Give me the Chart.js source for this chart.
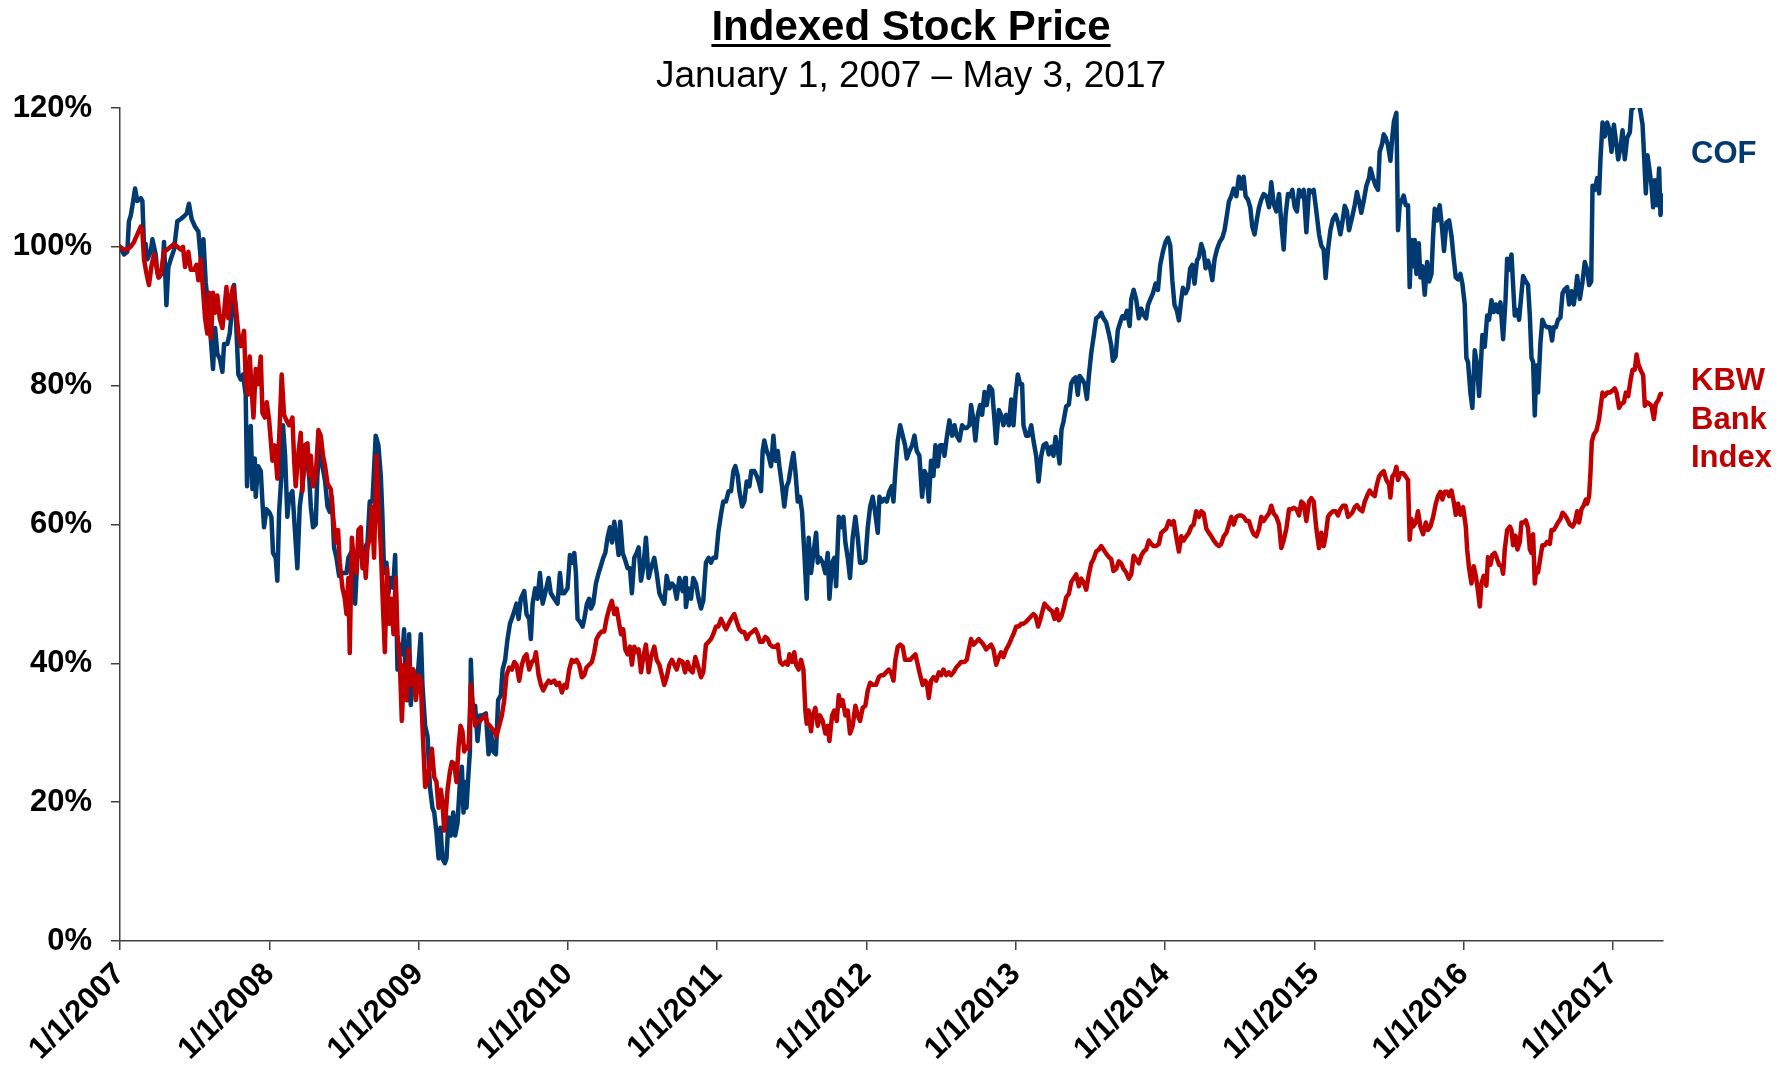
<!DOCTYPE html>
<html>
<head>
<meta charset="utf-8">
<script src="https://cdn.jsdelivr.net/npm/chart.js@4.4.1/dist/chart.umd.min.js"></script>
<style>
html,body{margin:0;padding:0;background:#fff;}
#wrap{position:relative;width:1786px;height:1070px;overflow:hidden;background:#fff;}
#c{position:absolute;left:0;top:0;}
.t{position:absolute;font-family:"Liberation Sans",Arial,Helvetica,sans-serif;line-height:1;white-space:nowrap;color:#000;}
#title{left:911px;top:5px;transform:translateX(-50%);font-size:42px;font-weight:bold;text-decoration:underline;text-decoration-thickness:3px;text-underline-offset:4px;}
#sub{left:911px;top:56px;transform:translateX(-50%);font-size:37px;}
#cof{left:1691px;top:137px;font-size:31px;font-weight:bold;color:#003A70;}
#kbw{left:1691px;top:361px;font-size:31px;font-weight:bold;color:#C00000;line-height:38.5px;}
</style>
</head>
<body>
<div id="wrap">
<canvas id="c" width="1786" height="1070"></canvas>
<div class="t" id="title">Indexed Stock Price</div>
<div class="t" id="sub">January 1, 2007 – May 3, 2017</div>
<div class="t" id="cof">COF</div>
<div class="t" id="kbw">KBW<br>Bank<br>Index</div>
</div>
<script>
// x tick labels (years, shown as 1/1/YYYY) and y ticks (percent)
const xTickYears = [2007,2008,2009,2010,2011,2012,2013,2014,2015,2016,2017];
const yTickValues = [0,20,40,60,80,100,120];

// COF indexed price: dates as fractional years, values in %
const cofDates = [
2007.000,2007.027,2007.049,2007.060,2007.071,2007.083,2007.101,2007.116,2007.139,2007.150,
2007.161,2007.172,2007.183,2007.206,2007.217,2007.239,2007.250,2007.261,2007.284,2007.295,
2007.311,2007.324,2007.340,2007.362,2007.384,2007.407,2007.429,2007.447,2007.462,2007.480,
2007.503,2007.525,2007.541,2007.559,2007.574,2007.592,2007.608,2007.623,2007.637,2007.652,
2007.670,2007.686,2007.697,2007.719,2007.735,2007.748,2007.764,2007.775,2007.793,2007.809,
2007.824,2007.842,2007.851,2007.865,2007.876,2007.887,2007.903,2007.909,2007.925,2007.943,
2007.954,2007.965,2007.981,2007.999,
2008.014,2008.025,2008.043,2008.054,2008.066,2008.081,2008.092,2008.106,2008.121,2008.133,
2008.155,2008.166,2008.188,2008.204,2008.222,2008.233,2008.249,2008.267,2008.278,2008.293,
2008.311,2008.322,2008.338,2008.356,2008.374,2008.390,2008.405,2008.419,2008.434,2008.450,
2008.468,2008.486,2008.501,2008.517,2008.530,2008.546,2008.557,2008.575,2008.591,2008.606,
2008.624,2008.642,2008.658,2008.673,2008.691,2008.713,2008.731,2008.747,2008.758,2008.769,
2008.785,2008.798,2008.814,2008.830,2008.843,2008.859,2008.874,2008.892,2008.903,2008.915,
2008.926,2008.937,2008.948,2008.964,2008.982,
2009.000,2009.015,2009.026,2009.044,2009.060,2009.076,2009.093,2009.105,2009.120,2009.134,
2009.147,2009.160,2009.176,2009.187,2009.201,2009.216,2009.232,2009.245,2009.261,2009.277,
2009.290,2009.301,2009.312,2009.321,2009.335,2009.344,2009.350,2009.361,2009.379,2009.395,
2009.411,2009.428,2009.451,2009.469,2009.484,2009.500,2009.518,2009.533,2009.551,2009.563,
2009.580,2009.596,2009.612,2009.630,2009.641,2009.656,2009.670,2009.685,2009.708,2009.723,
2009.741,2009.752,2009.764,2009.781,2009.797,2009.813,2009.831,2009.848,2009.871,2009.886,
2009.909,2009.931,2009.947,2009.960,2009.976,2009.998,
2010.014,2010.032,2010.043,2010.054,2010.065,2010.081,2010.099,2010.110,2010.128,2010.143,
2010.155,2010.170,2010.188,2010.206,2010.222,2010.237,2010.251,2010.266,2010.282,2010.296,
2010.311,2010.327,2010.340,2010.351,2010.367,2010.385,2010.400,2010.416,2010.429,2010.445,
2010.461,2010.474,2010.490,2010.505,2010.523,2010.541,2010.557,2010.579,2010.595,2010.613,
2010.630,2010.646,2010.662,2010.680,2010.697,2010.713,2010.729,2010.747,2010.769,2010.785,
2010.791,2010.809,2010.825,2010.840,2010.858,2010.876,2010.892,2010.907,2010.925,2010.943,
2010.959,2010.974,2010.992,
2011.008,2011.026,2011.041,2011.059,2011.077,2011.093,2011.109,2011.122,2011.138,2011.149,
2011.167,2011.182,2011.198,2011.216,2011.229,2011.249,2011.265,2011.278,2011.294,2011.305,
2011.316,2011.332,2011.345,2011.361,2011.377,2011.390,2011.406,2011.417,2011.435,2011.450,
2011.466,2011.479,2011.495,2011.511,2011.524,2011.540,2011.555,2011.569,2011.584,2011.600,
2011.613,2011.629,2011.645,2011.663,2011.674,2011.689,2011.707,2011.725,2011.741,2011.752,
2011.770,2011.785,2011.797,2011.815,2011.830,2011.846,2011.859,2011.875,2011.890,2011.908,
2011.926,2011.942,2011.957,2011.975,2011.993,
2012.009,2012.025,2012.042,2012.058,2012.076,2012.087,2012.105,2012.121,2012.136,2012.154,
2012.170,2012.181,2012.194,2012.210,2012.226,2012.243,2012.259,2012.270,2012.288,2012.306,
2012.322,2012.337,2012.355,2012.373,2012.389,2012.404,2012.418,2012.433,2012.449,2012.462,
2012.478,2012.494,2012.512,2012.523,2012.538,2012.556,2012.574,2012.590,2012.605,2012.623,
2012.641,2012.657,2012.672,2012.690,2012.701,2012.717,2012.730,2012.746,2012.762,2012.775,
2012.791,2012.806,2012.824,2012.842,2012.858,2012.869,2012.887,2012.902,2012.918,2012.936,
2012.954,2012.970,2012.985,2012.999,
2013.014,2013.030,2013.043,2013.052,2013.070,2013.086,2013.104,2013.119,2013.137,2013.153,
2013.171,2013.186,2013.204,2013.222,2013.238,2013.253,2013.267,2013.282,2013.294,2013.307,
2013.320,2013.338,2013.356,2013.372,2013.387,2013.401,2013.416,2013.428,2013.445,2013.461,
2013.477,2013.490,2013.506,2013.521,2013.539,2013.557,2013.573,2013.588,2013.606,2013.624,
2013.640,2013.651,2013.669,2013.684,2013.700,2013.714,2013.729,2013.745,2013.763,2013.774,
2013.790,2013.807,2013.825,2013.841,2013.857,2013.874,2013.886,2013.901,2013.919,2013.937,
2013.953,2013.968,2013.986,
2014.004,2014.020,2014.035,2014.049,2014.064,2014.080,2014.093,2014.109,2014.120,2014.138,
2014.154,2014.169,2014.183,2014.198,2014.214,2014.227,2014.243,2014.259,2014.272,2014.288,
2014.303,2014.317,2014.332,2014.348,2014.366,2014.384,2014.399,2014.415,2014.428,2014.444,
2014.460,2014.478,2014.495,2014.511,2014.527,2014.540,2014.556,2014.571,2014.585,2014.600,
2014.616,2014.630,2014.645,2014.661,2014.679,2014.697,2014.712,2014.728,2014.746,2014.764,
2014.779,2014.795,2014.808,2014.824,2014.839,2014.853,2014.869,2014.884,2014.898,2014.913,
2014.929,2014.947,2014.965,2014.980,2014.996,
2015.014,2015.032,2015.047,2015.063,2015.076,2015.092,2015.108,2015.125,2015.143,2015.159,
2015.175,2015.188,2015.204,2015.219,2015.233,2015.255,2015.271,2015.286,2015.300,2015.315,
2015.331,2015.349,2015.367,2015.376,2015.394,2015.411,2015.427,2015.438,2015.454,2015.465,
2015.479,2015.494,2015.510,2015.523,2015.534,2015.550,2015.561,2015.572,2015.584,2015.599,
2015.613,2015.628,2015.639,2015.651,2015.662,2015.673,2015.684,2015.700,2015.711,2015.724,
2015.740,2015.756,2015.769,2015.785,2015.796,2015.807,2015.823,2015.840,2015.856,2015.869,
2015.885,2015.903,2015.919,2015.934,2015.948,2015.963,2015.979,2015.992,
2016.008,2016.019,2016.030,2016.046,2016.059,2016.075,2016.091,2016.104,2016.113,2016.126,
2016.142,2016.158,2016.171,2016.187,2016.202,2016.216,2016.231,2016.247,2016.265,2016.281,
2016.292,2016.305,2016.321,2016.332,2016.343,2016.359,2016.372,2016.388,2016.399,2016.417,
2016.432,2016.444,2016.455,2016.466,2016.477,2016.488,2016.499,2016.515,2016.528,2016.544,
2016.560,2016.578,2016.593,2016.604,2016.618,2016.633,2016.649,2016.663,2016.678,2016.694,
2016.707,2016.723,2016.738,2016.752,2016.761,2016.779,2016.797,2016.812,2016.828,2016.841,
2016.855,2016.864,2016.879,2016.895,2016.908,2016.917,2016.931,2016.946,2016.962,2016.975,
2016.991,
2017.007,2017.020,2017.036,2017.051,2017.065,2017.080,2017.096,2017.114,2017.125,2017.136,
2017.158,2017.181,2017.199,2017.208,2017.221,2017.232,2017.243,2017.259,2017.270,2017.281,
2017.297,2017.310,2017.319,2017.336
];
const cofValues = [
100,98.9,99.3,103.7,104.4,105.9,108.4,106.6,107,106.6,
100,100.4,98.2,99.3,101.1,98.9,96.3,95.6,96.3,100.7,
91.6,97.1,98.2,99.6,103.7,104,104.4,104.8,106.2,104,
102.9,102.2,98.2,101.1,94.9,91.2,86.8,82.4,88.3,84.6,
83.8,82,86,86,87.5,90.5,94.5,90.5,81.6,80.9,
81.6,78.7,65.5,72.8,74.2,65.1,69.5,64,68.4,67.7,
63.3,59.6,62.2,61.8,
61.1,55.9,55.2,51.9,61.8,67,74.3,69.9,61.1,64,
64.8,61.1,53.7,62.6,65.5,68.4,69.9,67,62.6,59.6,
60,67,71.7,68.4,66.2,62.6,61.8,64,56.7,55.2,
52.6,53,53,53,55.2,55.9,53,48.6,55.9,55.9,
55.2,56.7,57.4,63.3,63.3,72.8,71.4,67,61.1,53,
54.5,50.1,52.3,50.9,55.6,39.1,42.7,41.3,44.9,36.1,
34.7,44.2,34,39.1,35.5,
39.8,44.2,36.9,31,29.5,22.2,19.2,18.5,15.6,11.9,
16.3,11.9,11.2,11.9,17.8,15.2,18.5,15.2,17,22.9,
25.1,18.5,22.9,19.2,24.4,27.3,40.5,33.9,33.9,28.8,
32.5,32.5,32.8,26.9,30.2,27.3,26.9,34.7,35.4,39.1,
40.5,43.5,45.7,46.8,47.5,48.6,46.4,49.3,50.4,47.1,
46.4,43.5,48.6,50.8,49.3,53,48.6,50.1,52.3,50.1,
49.3,48.6,53,50.1,50.1,50.8,
55.6,54.5,55.9,53,46.4,46,45.3,46.4,48.6,49.3,
47.9,48.6,51.5,53,54.1,55.2,55.9,58.1,59.6,57.4,
60.4,58.1,55.6,60.4,55.9,54.8,53.7,53.7,50.1,55.2,
55.9,56.7,51.9,53.7,58.1,52.3,53.7,55.2,53,50.1,
49.3,48.6,52.6,50.8,51.5,51.1,49.3,52.3,50.4,52.3,
48.1,50.8,49.3,52.3,51.5,49.3,47.9,49,54.5,55.2,
54.5,55.2,55.2,
58.9,61.5,63.3,63.3,64.8,64.8,67.7,68.4,67,64.8,
62.6,63.3,66.2,65.5,67.7,67.7,67,66.2,64.8,70.6,
72.1,70.6,69.9,68.4,72.8,69.2,70.6,68.4,65.5,62.6,
65.5,66.2,68.4,70.3,67.7,63.3,64,61.8,55.9,49.3,
58.1,53,55.9,58.8,54.5,55.2,54.5,53,55.9,49.3,
54.5,55.2,51.1,61.1,59.6,61.1,57.4,55.2,52.3,58.1,
61.1,58.1,54.5,54.5,54.8,
59.6,62.6,64,61.8,58.8,64,63.3,63.7,63.3,64.8,
65.5,63.3,67.7,72.1,74.3,72.8,71.4,69.5,70.6,71.4,
72.8,70.6,69.9,64,67.7,67,63.3,69.2,67,71.4,
68.4,71.4,71.4,69.9,72.5,75,72.8,74.3,72.8,72.1,
74.3,73.9,73.9,74.3,77.2,75,72.1,75.8,77.2,75.8,
79.1,77.2,79.9,79.4,75,71.7,76.5,75.8,74.3,75.8,
74.3,78,74.3,78.7,
81.6,80.2,80.2,74.3,72.8,72.8,74.3,72.1,69.9,66.2,
69.9,71.4,71.7,70.1,71.2,69.9,72.6,70.7,68.8,73.7,
74.8,77,77.3,80.3,80.9,81.2,78.7,81.4,80.9,80.3,
78.1,81.4,84.7,86.9,89.7,90,90.5,89.7,89.1,87.5,
85.8,83.6,84.2,88,89.1,90,89.7,90.8,88.6,92.4,
93.8,92.4,89.7,91.1,90.2,89.7,91.6,92.4,93.3,94.7,
93.8,97.4,99.3,
100.7,101.3,100.2,95.2,91.6,90.8,89.4,92.4,94.1,93.3,
94.1,96.9,97.4,94.7,98,98.5,100.4,99.3,96.9,98,
96.9,95.2,98.2,99.6,100.7,101.3,102.4,104.6,106.5,107.3,
108.4,107.3,110.1,108.4,110.1,107.3,106.8,105.7,102.9,101.8,
104,105.7,106.8,107.6,107.3,105.7,109.3,106.2,105.1,107.6,
103.5,99.6,104.6,107.6,107.3,108.2,105.7,105.1,108.2,107.3,
108.2,102.1,108.2,107.9,108.2,
105.1,101.8,100.2,99.6,95.5,99.6,102.4,104,104.6,103.5,
101.8,103.5,105.9,105.1,102.4,104.4,106,107.9,106.6,104.9,
106.6,108.8,109.9,111.3,109.9,108.8,108.2,113.7,114.8,116.2,
115.7,114.6,112.4,115.9,118.1,119.3,102.4,106,106.6,107.4,
106,106,94.2,101,97.2,101,96.1,100.5,95.6,97.2,
93.1,97.8,95,96.1,101.6,105.5,103.8,106,102.7,99.4,
103.5,103.8,101.6,98.3,95.6,95.3,96.1,94.7,
91.7,84,83.4,79,76.8,85.1,82.9,78.5,81.8,87.3,
85.6,90.1,89.5,92.3,90.6,91.7,90.6,92,86.7,92.3,
98.3,96.7,98.9,94.5,90.1,90.9,89.5,93.3,95.8,95,
94.5,90.1,84,83.4,75.7,82.9,79,86.2,89.5,88.7,
88.4,88.4,86.5,88.4,88.4,89.5,89.8,93.3,93.9,94.2,
91.7,93.6,91.7,93.9,95.8,92.5,95,97.8,96.7,94.5,
95,108.8,108.2,109.9,107.7,112.6,117.9,115.9,117.9,117,
113.7,
117.6,115.4,112.6,114.3,116.8,112.6,115.7,116.5,119.8,120,
121,120,117.6,113.7,107.7,113.2,111.5,108.8,105.7,109.6,
106,111.3,104.6,107.4
];

// KBW Bank Index indexed price
const kbwDates = [
2007.000,2007.027,2007.049,2007.071,2007.094,2007.116,2007.139,2007.150,2007.161,2007.176,
2007.194,2007.212,2007.228,2007.239,2007.257,2007.273,2007.295,2007.317,2007.340,2007.362,
2007.384,2007.407,2007.422,2007.436,2007.458,2007.474,2007.496,2007.512,2007.525,2007.541,
2007.556,2007.570,2007.585,2007.596,2007.610,2007.623,2007.637,2007.652,2007.668,2007.686,
2007.697,2007.713,2007.726,2007.742,2007.757,2007.775,2007.793,2007.809,2007.831,2007.842,
2007.856,2007.869,2007.882,2007.894,2007.909,2007.925,2007.943,2007.954,2007.970,2007.983,
2007.999,
2008.010,2008.021,2008.037,2008.054,2008.070,2008.083,2008.099,2008.115,2008.133,2008.155,
2008.166,2008.177,2008.193,2008.211,2008.222,2008.238,2008.256,2008.267,2008.278,2008.293,
2008.311,2008.329,2008.345,2008.360,2008.374,2008.390,2008.412,2008.428,2008.445,2008.461,
2008.472,2008.490,2008.506,2008.517,2008.530,2008.539,2008.553,2008.568,2008.584,2008.597,
2008.613,2008.624,2008.635,2008.646,2008.658,2008.673,2008.687,2008.702,2008.718,2008.731,
2008.747,2008.758,2008.774,2008.789,2008.803,2008.818,2008.832,2008.847,2008.859,2008.874,
2008.888,2008.903,2008.919,2008.932,2008.948,2008.964,2008.982,
2009.000,2009.015,2009.026,2009.044,2009.060,2009.076,2009.089,2009.105,2009.120,2009.134,
2009.149,2009.160,2009.172,2009.183,2009.194,2009.210,2009.223,2009.239,2009.254,2009.268,
2009.281,2009.294,2009.306,2009.317,2009.335,2009.350,2009.366,2009.379,2009.395,2009.411,
2009.428,2009.446,2009.462,2009.478,2009.491,2009.507,2009.522,2009.540,2009.558,2009.574,
2009.589,2009.607,2009.625,2009.641,2009.656,2009.674,2009.692,2009.708,2009.723,2009.741,
2009.759,2009.775,2009.786,2009.804,2009.820,2009.835,2009.853,2009.871,2009.886,2009.909,
2009.924,2009.942,2009.960,2009.976,2009.991,
2010.009,2010.027,2010.043,2010.058,2010.076,2010.094,2010.110,2010.125,2010.143,2010.161,
2010.177,2010.192,2010.210,2010.228,2010.244,2010.259,2010.277,2010.295,2010.311,2010.327,
2010.344,2010.356,2010.371,2010.385,2010.400,2010.416,2010.429,2010.445,2010.461,2010.474,
2010.490,2010.505,2010.523,2010.541,2010.557,2010.579,2010.595,2010.613,2010.630,2010.646,
2010.662,2010.680,2010.697,2010.713,2010.729,2010.747,2010.769,2010.785,2010.802,2010.818,
2010.836,2010.854,2010.869,2010.892,2010.907,2010.925,2010.943,2010.959,2010.974,2010.992,
2011.008,2011.026,2011.041,2011.059,2011.077,2011.093,2011.115,2011.131,2011.149,2011.167,
2011.182,2011.198,2011.216,2011.234,2011.256,2011.272,2011.287,2011.305,2011.323,2011.339,
2011.354,2011.372,2011.390,2011.406,2011.421,2011.439,2011.457,2011.473,2011.484,2011.502,
2011.517,2011.529,2011.546,2011.562,2011.578,2011.591,2011.600,2011.613,2011.629,2011.640,
2011.658,2011.674,2011.689,2011.707,2011.725,2011.741,2011.752,2011.770,2011.785,2011.801,
2011.815,2011.830,2011.841,2011.859,2011.875,2011.890,2011.908,2011.926,2011.942,2011.957,
2011.975,2011.993,
2012.009,2012.025,2012.042,2012.065,2012.083,2012.098,2012.114,2012.132,2012.150,2012.165,
2012.181,2012.194,2012.210,2012.226,2012.243,2012.259,2012.277,2012.293,2012.310,2012.328,
2012.344,2012.360,2012.377,2012.393,2012.404,2012.418,2012.433,2012.449,2012.467,2012.485,
2012.500,2012.516,2012.534,2012.552,2012.567,2012.583,2012.601,2012.619,2012.634,2012.657,
2012.672,2012.686,2012.701,2012.717,2012.735,2012.753,2012.768,2012.784,2012.802,2012.820,
2012.835,2012.851,2012.869,2012.887,2012.902,2012.918,2012.936,2012.954,2012.970,2012.985,
2013.003,2013.021,2013.037,2013.052,2013.070,2013.088,2013.104,2013.119,2013.133,2013.150,
2013.166,2013.179,2013.193,2013.209,2013.227,2013.244,2013.260,2013.276,2013.289,2013.305,
2013.320,2013.338,2013.356,2013.372,2013.387,2013.405,2013.423,2013.439,2013.454,2013.472,
2013.490,2013.506,2013.521,2013.539,2013.557,2013.573,2013.588,2013.606,2013.624,2013.640,
2013.655,2013.673,2013.691,2013.707,2013.722,2013.740,2013.758,2013.774,2013.790,2013.807,
2013.825,2013.841,2013.857,2013.874,2013.892,2013.908,2013.924,2013.941,2013.959,2013.975,
2013.991,
2014.008,2014.026,2014.042,2014.058,2014.075,2014.093,2014.109,2014.125,2014.142,2014.160,
2014.176,2014.192,2014.209,2014.227,2014.243,2014.259,2014.277,2014.294,2014.310,2014.326,
2014.344,2014.361,2014.377,2014.393,2014.411,2014.428,2014.444,2014.460,2014.478,2014.495,
2014.511,2014.527,2014.545,2014.562,2014.578,2014.594,2014.612,2014.630,2014.645,2014.661,
2014.679,2014.697,2014.712,2014.728,2014.746,2014.764,2014.779,2014.795,2014.813,2014.831,
2014.846,2014.862,2014.880,2014.898,2014.913,2014.929,2014.947,2014.965,2014.980,2014.996,
2015.014,2015.032,2015.047,2015.063,2015.076,2015.092,2015.108,2015.125,2015.143,2015.159,
2015.175,2015.192,2015.210,2015.226,2015.255,2015.271,2015.286,2015.304,2015.322,2015.338,
2015.353,2015.371,2015.387,2015.405,2015.420,2015.434,2015.450,2015.465,2015.483,2015.501,
2015.510,2015.523,2015.539,2015.550,2015.561,2015.577,2015.595,2015.613,2015.628,2015.639,
2015.651,2015.662,2015.680,2015.695,2015.711,2015.729,2015.747,2015.762,2015.778,2015.796,
2015.814,2015.829,2015.845,2015.858,2015.874,2015.890,2015.903,2015.919,2015.934,2015.948,
2015.963,2015.979,2015.997,
2016.015,2016.024,2016.037,2016.053,2016.068,2016.082,2016.097,2016.109,2016.120,2016.135,
2016.153,2016.164,2016.180,2016.193,2016.209,2016.220,2016.238,2016.254,2016.265,2016.276,
2016.292,2016.310,2016.321,2016.332,2016.348,2016.361,2016.377,2016.388,2016.404,2016.417,
2016.432,2016.444,2016.455,2016.466,2016.477,2016.488,2016.499,2016.515,2016.528,2016.544,
2016.560,2016.578,2016.589,2016.604,2016.618,2016.633,2016.649,2016.663,2016.678,2016.694,
2016.712,2016.730,2016.745,2016.761,2016.774,2016.790,2016.806,2016.819,2016.828,2016.841,
2016.850,2016.859,2016.873,2016.890,2016.908,2016.917,2016.931,2016.946,2016.962,2016.980,
2016.998,
2017.013,2017.025,2017.042,2017.058,2017.074,2017.087,2017.103,2017.118,2017.132,2017.147,
2017.159,2017.170,2017.185,2017.203,2017.214,2017.230,2017.243,2017.259,2017.275,2017.288,
2017.304,2017.319,2017.336
];
const kbwValues = [
100,99.6,99.6,100,100.7,101.8,102.9,102.2,98.2,96.3,
94.5,97.4,98.9,97.8,95.6,96,99.3,99.6,100,100.4,
100,99.6,100,97.1,99.3,96.7,96.7,97.4,95.2,98.2,
93.8,89.7,87.5,93.4,86.8,93.4,90.5,93,89.7,88.3,
90.5,94.2,89.7,92.7,94.2,91.6,87.5,85.7,87.9,80.9,
78.7,84.2,79.4,75.4,82.4,80.2,84.2,76.1,75.4,77.6,
75,
72.1,69.2,71.4,66.6,74.3,81.6,75.8,75,74.3,75.4,
69.5,65.5,69.9,73.2,64.8,71.4,71.7,67,69.9,65.5,
67,73.6,72.8,69.9,68.4,65.9,65.1,61.1,57.4,59.2,
54.5,50.9,49.3,47.1,52.3,41.5,58.1,54.5,53,59.2,
59.6,53.7,55.9,52.3,56.7,58.1,62.6,55.2,69.9,63.3,
56.7,50.1,41.6,53.7,45.7,49.3,44.2,52.3,44.2,40.5,
31.7,39.8,34.7,42,36.9,39.1,34.7,
38.3,37.5,31,22.2,22.9,25.8,27.7,23.6,22.9,19.2,
21.8,20,15.9,18.5,21.8,24.4,25.8,25.5,22.9,28,
31,30.2,27.3,28,27.7,36.9,33.2,31,31.7,31.7,
32.1,32.5,31.3,31,30.6,30.2,29.5,31,32.5,34.7,
38.3,39.4,39.1,40.2,39.8,37.5,39.8,40.9,41.3,39.1,
40.2,40.5,41.6,38.3,36.9,36.1,36.9,37.5,37.2,37.5,
36.9,37.2,35.8,36.9,36.5,
39.1,40.5,40.2,40.5,39.8,38,38.3,39.4,39.8,40.2,
41.6,43.5,44.2,44.6,44.6,46.4,47.9,49,47.1,47.9,
45.7,44.2,44.9,42,41.3,42.4,39.8,42.4,41.6,42,
38.7,40.9,42.7,38.7,40.9,42.4,40.5,39.8,38.3,36.9,
38,39.8,40.5,39.8,39.1,40.5,40.2,38.7,40.2,39.1,
38.7,40.9,39.8,38,38.7,42.7,43.1,43.5,44.2,45.3,
45.3,46.4,45.7,44.9,45.7,46.4,47.1,46,44.9,44.5,
44.5,43.5,44.2,44.5,44.9,44.2,43.1,43.1,43.8,43.5,
42.7,42.4,42.4,42.7,40.2,39.8,40.2,39.8,41.3,40.2,
41.6,39.8,39.1,40.5,39.1,33.2,31.3,33.2,30.2,32.5,
33.6,31,32.5,31.7,29.9,31,28.8,32.5,33.2,31.7,
35.4,33.9,34.7,32.5,33.2,29.9,31,33.9,32.5,31.7,
33.6,33.9,
36.1,37.2,36.9,36.9,38,38.3,38.3,38.7,39.1,38.7,
37.5,40.5,42.4,42.7,42.4,40.5,40.5,40.5,40.9,41.3,
39.8,38.3,36.9,37.5,37.2,35,37.5,38,37.5,38.7,
38.3,39.1,38.3,38.7,38.3,38.7,39.4,39.8,40.2,40.2,
40.5,42,43.5,42.7,43.1,43.5,43.1,42.7,42,42.4,
42.7,42,39.8,40.9,41.6,40.9,42,42.7,43.5,44.2,
45.3,45.3,45.7,45.7,46,46.4,46.8,47.1,46.8,45.3,
46.4,47.5,48.6,48.2,47.8,47.5,46.4,47.8,46.2,46.7,
47.8,49.5,50,51.7,52.2,52.8,51.1,52.2,51.7,50.6,
52.8,54.4,55,56.1,56.4,56.9,56.4,55.8,55.3,55,
53.3,53.6,54.7,54.4,53.6,53.1,52.2,52.8,55.5,55,
54.4,55.5,56.1,56.4,57.7,57.2,56.9,56.9,57.2,58.8,
59.1,
59.4,60.5,60,60.5,58.3,56.1,58.3,57.7,58.3,58.8,
59.7,60,61.9,61.1,61.9,61.6,59.4,58.8,58.3,57.7,
57.2,56.9,57.2,58.3,58.8,60,61.1,60,61.1,61.3,
61.3,61.1,60.5,60.5,59.4,58.6,58.3,59.4,61.1,60.5,
61.1,61.6,62.7,61.6,61.1,60,56.6,57.7,59.4,62.2,
62.2,62.4,62.2,61.3,63.3,63,60.5,63.3,63.8,63.3,
59.4,56.6,58.8,56.9,58.3,61.1,61.6,61.9,61.9,61.3,
62.2,62.7,62.7,61.1,61.7,62.5,62.8,62.2,61.9,63.3,
64.1,64.9,64.4,64.1,65.8,66.9,67.4,67.7,66.4,65.8,
63.9,66.9,67.4,68.3,66.4,67.4,67.4,66.9,66.4,57.8,
60.8,59.7,60.3,61.9,59.7,58.6,60.3,59.2,59.7,61.1,
63,64.1,64.7,63.6,64.7,64.7,64.1,64.9,63.3,61.4,
63,61.4,62.5,
59.7,56.4,53.7,51.5,54,52.6,50.4,48.2,51.5,52.6,
51.2,55.3,54.2,55.6,55.9,55.3,54.2,54,52.9,56.4,
59.2,59.7,59.2,57,58.4,56.4,57.5,60.3,60.3,60.6,
59.5,56.4,55.9,58.6,51.5,53.7,53.1,55.3,57,57,
57.5,57.2,59.2,59.2,59.7,60.3,60.8,61.7,61.4,60.8,
60,59.7,60.3,61.9,60.3,62.2,62.8,63.6,63,64.1,
67.4,71.9,73,73.5,75.2,76.8,79,78.5,79,79,
79.3,
79.6,79,76.8,77.4,77.6,79,78.5,80.7,82.3,82.3,
84.5,83.2,82.3,81.5,77.1,77.6,77.4,77.1,75.2,77.4,
77.9,78.8,78.8
];

const FONT = '"Liberation Sans", Arial, Helvetica, sans-serif';
const AXIS = '#404040';

function toPoints(dates, values) {
  const n = Math.min(dates.length, values.length);
  const pts = [];
  for (let i = 0; i < n; i++) pts.push({x: dates[i], y: values[i]});
  return pts;
}

new Chart(document.getElementById('c'), {
  type: 'line',
  data: {
    datasets: [
      {label: 'COF', data: toPoints(cofDates, cofValues), borderColor: '#003A70', backgroundColor: '#003A70',
       borderWidth: 4.5, pointRadius: 0, tension: 0, borderJoinStyle: 'round', borderCapStyle: 'round', order: 1},
      {label: 'KBW Bank Index', data: toPoints(kbwDates, kbwValues), borderColor: '#C00000', backgroundColor: '#C00000',
       borderWidth: 4.5, pointRadius: 0, tension: 0, borderJoinStyle: 'round', borderCapStyle: 'round', order: 0}
    ]
  },
  options: {
    responsive: false,
    animation: false,
    devicePixelRatio: 1,
    parsing: false,
    layout: {padding: {left: 0, right: 123, top: 108, bottom: 0}},
    plugins: {legend: {display: false}, title: {display: false}, tooltip: {enabled: false}},
    scales: {
      x: {
        type: 'linear',
        min: xTickYears[0],
        max: cofDates[cofDates.length - 1],
        afterBuildTicks: s => { s.ticks = xTickYears.map(v => ({value: v})); },
        afterFit: s => { s.height = 129; },
        ticks: {
          autoSkip: false, minRotation: 45, maxRotation: 45, padding: 6, color: '#000',
          font: {family: FONT, size: 31, weight: 'bold'},
          callback: v => '1/1/' + v
        },
        grid: {drawOnChartArea: false, drawTicks: true, tickLength: 9, color: AXIS, lineWidth: 1.5},
        border: {display: true, color: AXIS, width: 1.5}
      },
      y: {
        min: 0, max: 120,
        afterBuildTicks: s => { s.ticks = yTickValues.map(v => ({value: v})); },
        afterFit: s => { s.width = 120; },
        ticks: {
          padding: 19, color: '#000',
          font: {family: FONT, size: 31, weight: 'bold'},
          callback: v => v + '%'
        },
        grid: {drawOnChartArea: false, drawTicks: true, tickLength: 9, color: AXIS, lineWidth: 1.5},
        border: {display: true, color: AXIS, width: 1.5}
      }
    }
  }
});
</script>
</body>
</html>
